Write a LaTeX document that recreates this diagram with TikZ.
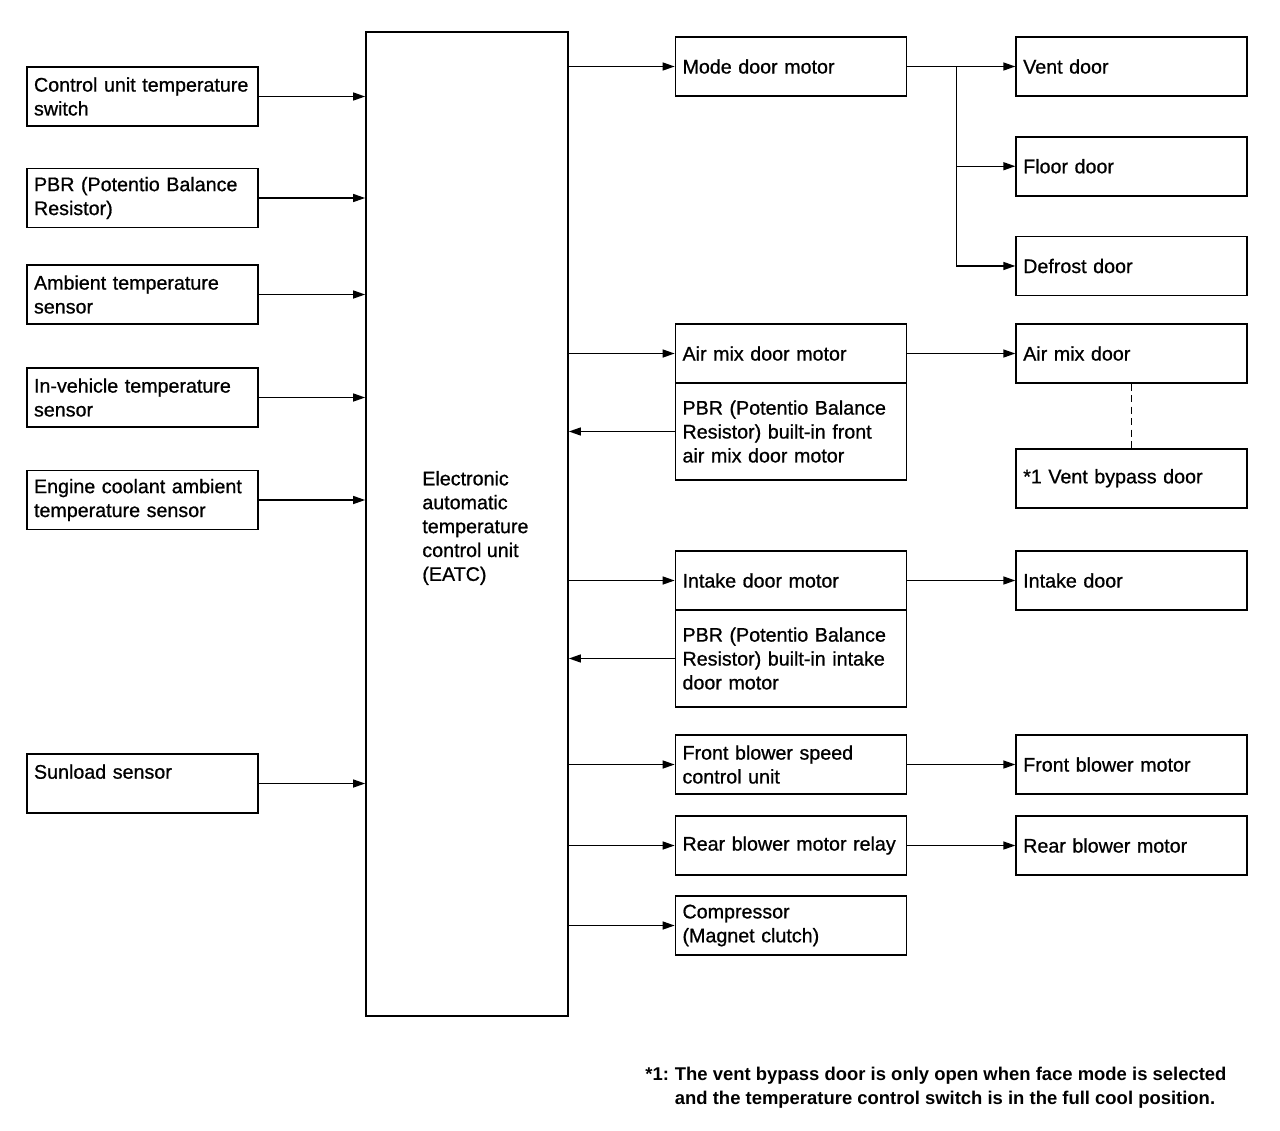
\documentclass[tikz,border=0pt]{standalone}
\usepackage{fontspec}
\setmainfont{Liberation Sans}
\newfontfamily\boxfont[FakeBold=0.8]{Liberation Sans}
\usetikzlibrary{positioning, arrows.meta}

\begin{document}
\begin{tikzpicture}[x=0.02cm, y=-0.02cm,
    box/.style={draw, line width=1pt, minimum width=4.62cm, minimum height=1.18cm, inner xsep=0.14cm, inner ysep=0pt, text width=4.34cm, align=left, font=\boxfont\fontsize{11.2}{13.6}\selectfont},
    pbrbox/.style={box, minimum height=1.94cm},
    sig/.style={line width=0.8pt, -{Triangle[length=2.4mm, width=1.6mm]}},
    link/.style={line width=0.8pt, dash pattern=on 4pt off 2.5pt}]
    \useasboundingbox (0,0) rectangle (1280,1130);

    % inputs
    \node[box] (cuts) at (142.5,96.5) {Control unit temperature\\switch};
    \node[box] (pbr) at (142.5,198) {PBR (Potentio Balance\\Resistor)};
    \node[box] (amb) at (142.5,294.5) {Ambient temperature\\sensor};
    \node[box] (invt) at (142.5,397.5) {In-vehicle temperature\\sensor};
    \node[box] (ects) at (142.5,500) {Engine coolant ambient\\temperature sensor};
    \node[box] (sun) at (142.5,783.5) {Sunload sensor\\\mbox{}};

    % control unit
    \node[draw, line width=1pt, minimum width=4.04cm, minimum height=19.68cm] (eatc) at (467,524) {};
    \node[anchor=west, inner sep=0pt, align=left, font=\boxfont\fontsize{11.2}{13.6}\selectfont] (eatctxt) at (422,528) {Electronic\\automatic\\temperature\\control unit\\(EATC)};

    % outputs
    \node[box] (mdm) at (791,66.5) {Mode door motor};
    \node[box] (amdm) at (791,353.5) {Air mix door motor};
    \node[pbrbox, below=-1pt of amdm] (amdpbr) {PBR (Potentio Balance\\Resistor) built-in front\\air mix door motor};
    \node[box] (idm) at (791,580.5) {Intake door motor};
    \node[pbrbox, below=-1pt of idm] (idpbr) {PBR (Potentio Balance\\Resistor) built-in intake\\door motor};
    \node[box] (fbsc) at (791,764.5) {Front blower speed\\control unit};
    \node[box] (rbmr) at (791,845.5) {Rear blower motor relay};
    \node[box] (comp) at (791,925.5) {Compressor\\(Magnet clutch)};

    % doors and motors
    \node[box, right=2.16cm of mdm] (vent) {Vent door};
    \node[box, below=0.78cm of vent] (floor) {Floor door};
    \node[box, below=0.78cm of floor] (defr) {Defrost door};
    \node[box, right=2.16cm of amdm] (amd) {Air mix door};
    \node[box, below=1.28cm of amd] (vbd) {*1 Vent bypass door};
    \node[box, right=2.16cm of idm] (intd) {Intake door};
    \node[box, right=2.16cm of fbsc] (fbm) {Front blower motor};
    \node[box, right=2.16cm of rbmr] (rbm) {Rear blower motor};

    \coordinate[right=0.98cm of mdm.east] (split);

    % footnote
    \node[anchor=west, inner sep=0pt, font=\bfseries\fontsize{10.5}{13.6}\selectfont] (note) at (645,1088) {\begin{tabular}{@{}l@{\hspace{0.12cm}}l@{}}*1: & The vent bypass door is only open when face mode is selected\\ & and the temperature control switch is in the full cool position.\end{tabular}};

    % signals into the unit
    \draw[sig] (cuts.east) -- (cuts.east -| eatc.west);
    \draw[sig] (pbr.east) -- (pbr.east -| eatc.west);
    \draw[sig] (amb.east) -- (amb.east -| eatc.west);
    \draw[sig] (invt.east) -- (invt.east -| eatc.west);
    \draw[sig] (ects.east) -- (ects.east -| eatc.west);
    \draw[sig] (sun.east) -- (sun.east -| eatc.west);

    % signals out of the unit
    \draw[sig] (eatc.east |- mdm.west) -- (mdm.west);
    \draw[sig] (eatc.east |- amdm.west) -- (amdm.west);
    \draw[sig] (amdpbr.west) -- (amdpbr.west -| eatc.east);
    \draw[sig] (eatc.east |- idm.west) -- (idm.west);
    \draw[sig] (idpbr.west) -- (idpbr.west -| eatc.east);
    \draw[sig] (eatc.east |- fbsc.west) -- (fbsc.west);
    \draw[sig] (eatc.east |- rbmr.west) -- (rbmr.west);
    \draw[sig] (eatc.east |- comp.west) -- (comp.west);

    % actuators
    \draw[sig] (mdm.east) -- (vent.west);
    \draw[sig] (split) |- (floor.west);
    \draw[sig] (split) |- (defr.west);
    \draw[sig] (amdm.east) -- (amd.west);
    \draw[link] (amd) -- (vbd);
    \draw[sig] (idm.east) -- (intd.west);
    \draw[sig] (fbsc.east) -- (fbm.west);
    \draw[sig] (rbmr.east) -- (rbm.west);
\end{tikzpicture}
\end{document}
